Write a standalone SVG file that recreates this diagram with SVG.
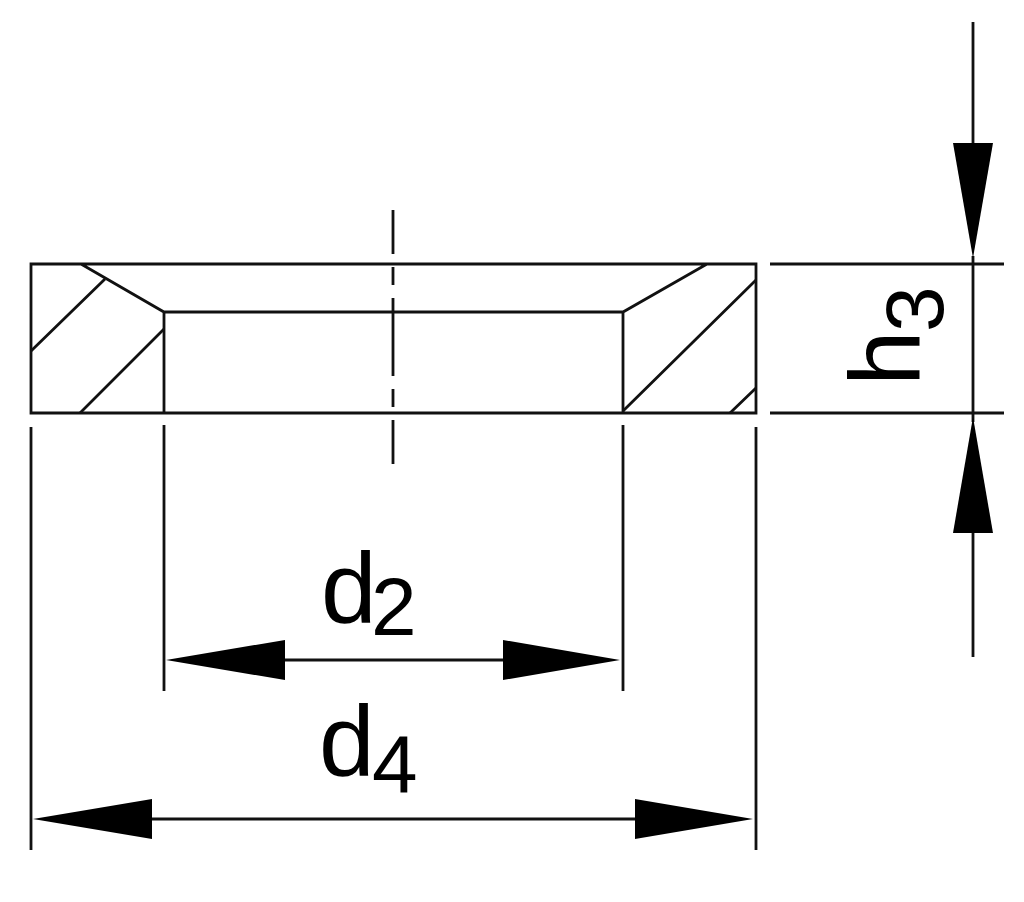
<svg xmlns="http://www.w3.org/2000/svg" width="1024" height="902" viewBox="0 0 1024 902">
<style>
.l{stroke:#111;stroke-width:2.8;fill:none}
.a{fill:#000;stroke:none}
.t{font-family:"Liberation Sans",Arial,sans-serif;fill:#000}
.b{font-size:100px}
.s{font-size:82px}
</style>
<rect width="1024" height="902" fill="#fff"/>
<g id="part">
<path class="l" d="M31 264H756V413H31ZM81 264L164 312H623L707 264M164 312V413M623 312V413"/>
<path class="l" d="M31 351L105 279M80 413L164 329M623 411L756 280M730 413L756 388"/>
</g>
<g id="centerline">
<path class="l" d="M393 210V254M393 267V285M393 298V376M393 389V407M393 420V464"/>
</g>
<g id="connectors">
<path class="l" d="M31 427V850M164 425V691M623 425V691M756 427V850M770 264H1004M770 413H1004M973 22V144M973 533V657M973 256V422M284 660H503M152 819H636"/>
<polygon class="a" points="953,143 993,143 973,258"/>
<polygon class="a" points="953,533 993,533 973,417"/>
<polygon class="a" points="166,660 285,640 285,680"/>
<polygon class="a" points="620,660 503,640 503,680"/>
<polygon class="a" points="33,819 152,799 152,839"/>
<polygon class="a" points="753,819 635,799 635,839"/>
</g>
<g id="labels">
<text class="t b" x="321" y="623">d</text>
<text class="t s" x="371" y="635">2</text>
<text class="t b" x="319" y="776">d</text>
<text class="t s" x="372" y="793">4</text>
<text class="t b" transform="translate(920 386) rotate(-90)">h</text>
<text class="t s" transform="translate(943 332) rotate(-90)">3</text>
</g>
</svg>
